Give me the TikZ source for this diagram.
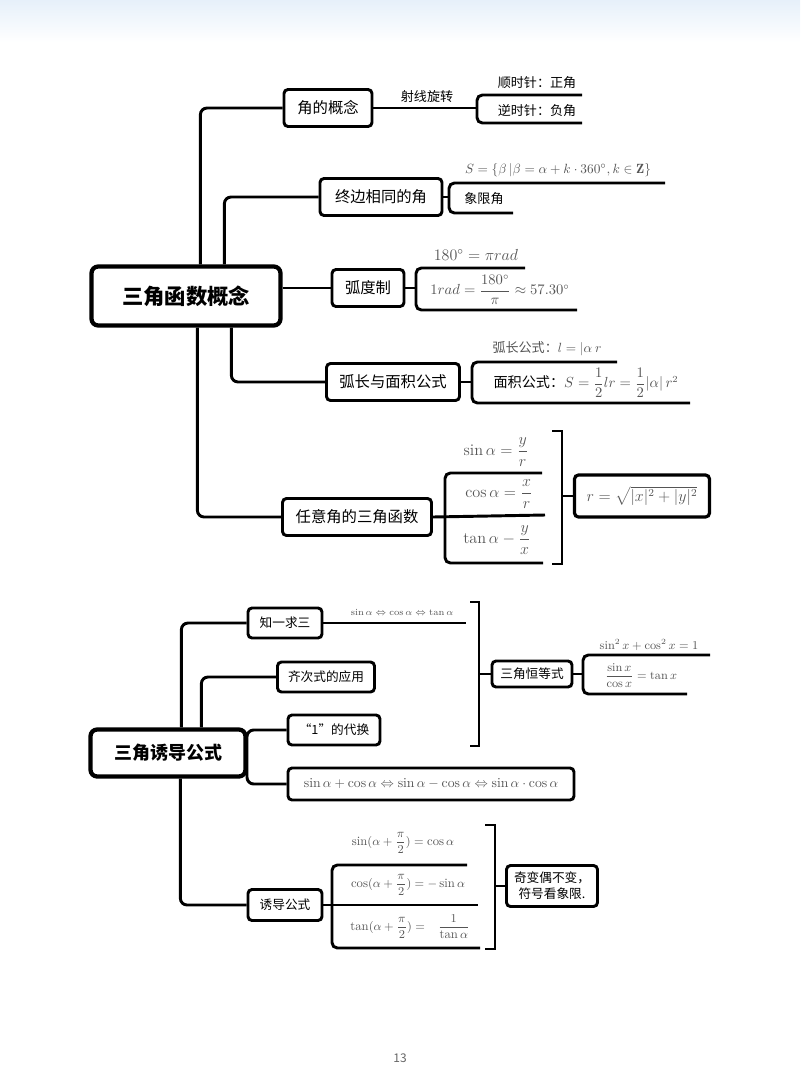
\documentclass[tikz,border=0pt]{standalone}
\usepackage{amsmath, amsfonts, amssymb}
\usepackage{fontspec}
\newfontfamily\cjk{Noto Sans CJK SC}
\usetikzlibrary{calc}
\definecolor{mathgray}{HTML}{555555}
\definecolor{topband}{HTML}{E6F0FA}

\tikzset{
  wh/.style 2 args={minimum width=#1*0.75pt, minimum height=#2*0.75pt},
  box/.style={draw, line width=2.2pt, rounded corners=3pt, inner sep=0pt, align=center,
    font=\cjk\fontsize{11.5}{13}\selectfont},
  sbox/.style={box, font=\cjk\fontsize{9.5}{12}\selectfont},
  bigbox/.style={draw, line width=3.2pt, rounded corners=5pt, inner sep=0pt,
    font=\cjk\bfseries\fontsize{16}{18}\selectfont},
  conn/.style={line width=2.2pt, rounded corners=5pt},
  brk/.style={line width=2.2pt},
  lbl/.style={inner sep=1pt, font=\cjk\fontsize{9.8}{11}\selectfont},
  fml/.style={inner sep=1pt, text=mathgray},
}

\begin{document}
\begin{tikzpicture}[x=0.75pt, y=-0.75pt]
    \useasboundingbox (0,0) rectangle (800,1085);
    % 顶部底色
    \shade[top color=topband, bottom color=white] (0,0) rectangle (800,42);

    % ===== 三角函数概念 =====
    \node[bigbox, wh={189}{59}] (m1) at (186,296) {三角函数概念};
    \node[box, wh={88}{37}]  (a1) at (328,108) {角的概念};
    \node[box, wh={122}{37}] (a2) at (381,197) {终边相同的角};
    \node[box, wh={72}{37}]  (a3) at (368,288) {弧度制};
    \node[box, wh={133}{37}] (a4) at (393,382) {弧长与面积公式};
    \node[box, wh={149}{37}] (a5) at (357,517) {任意角的三角函数};
    % 主干连线
    \draw[conn] ($(m1.north west)+(111,0)$) |- (a1.west);
    \draw[conn] ($(m1.north west)+(135,0)$) |- (a2.west);
    \draw[conn] (m1.east |- a3.west) -- (a3.west);
    \draw[conn] ($(m1.south west)+(142,0)$) |- (a4.west);
    \draw[conn] ($(m1.south west)+(108,0)$) |- (a5.west);

    % 角的概念
    \draw[conn] (a1.east) -- (477,108) coordinate (k1);
    \draw[conn, rounded corners=4pt] (582,95) -- (477,95) -- (477,123) -- (582,123);
    \node[lbl] (t10) at (427,97) {射线旋转};
    \node[lbl] (t11) at (537,83) {顺时针：正角};
    \node[lbl] (t12) at (537,111) {逆时针：负角};

    % 终边相同的角
    \draw[conn] (a2.east) -- (449,197) coordinate (k2);
    \draw[conn, rounded corners=4pt] (665,183) -- (449,183) -- (449,213) -- (513,213);
    \node[fml] (t21) at (558,170) {$S=\{\beta\,|\beta=\alpha+k\cdot360^\circ,k\in\mathbf{Z}\}$};
    \node[lbl] (t22) at (484,199) {象限角};

    % 弧度制
    \draw[conn] (a3.east) -- (416,288) coordinate (k3);
    \draw[conn, rounded corners=4pt] (525,268) -- (416,268) -- (416,310) -- (577,310);
    \node[fml] (t31) at (476,255) {\large $180^\circ=\pi rad$};
    \node[fml, font=\fontsize{10.6}{12}\selectfont] (t32) at (500,290) {$1rad=\dfrac{180^\circ}{\pi}\approx57.30^\circ$};

    % 弧长与面积公式
    \draw[conn] (a4.east) -- (472,382) coordinate (k4);
    \draw[conn, rounded corners=4pt] (617,362) -- (472,362) -- (472,403) -- (690,403);
    \node[lbl, text=mathgray] (t41) at (547,349) {弧长公式：$l=|\alpha\ r$};
    \node[lbl, font=\cjk\fontsize{10.6}{12}\selectfont] (t42) at (586,383) {面积公式：\textcolor{mathgray}{$S=\dfrac{1}{2}lr=\dfrac{1}{2}|\alpha|\,r^2$}};

    % 任意角的三角函数
    \draw[conn] (a5.east) -- (545,515) coordinate (k5);
    \draw[conn, rounded corners=4pt] (542,473) -- (445,473) -- (445,563) -- (543,563);
    \begin{scope}[every node/.append style={font=\fontsize{12.2}{14}\selectfont}]
    \node[fml] (t51) at (496,452) {$\sin\alpha=\dfrac{y}{r}$};
    \node[fml] (t52) at (499,494) {$\cos\alpha=\dfrac{x}{r}$};
    \node[fml] (t53) at (497,540) {$\tan\alpha-\dfrac{y}{x}$};
    \end{scope}
    \draw[brk] (552,431) -- (562,431) -- (562,564) -- (552,564);
    \node[box, line width=2.4pt, wh={135}{42}] (r1) at (642,496)
      {\textcolor{mathgray}{$r=\sqrt{|x|^2+|y|^2}$}};
    \draw[conn] (562,496) -- (r1.west);

    % ===== 三角诱导公式 =====
    \node[bigbox, wh={155}{47}, font=\cjk\bfseries\fontsize{13.5}{16}\selectfont] (m2) at (168,753) {三角诱导公式};
    \node[sbox, wh={74}{30}]  (b1) at (285,623) {知一求三};
    \node[sbox, wh={97}{30}]  (b2) at (326,677) {齐次式的应用};
    \node[sbox, wh={92}{30}]  (b3) at (334,730) {“1”的代换};
    \node[sbox, wh={286}{32}, font=\fontsize{10.3}{12}\selectfont] (b4) at (431,784)
      {\textcolor{mathgray}{$\sin\alpha+\cos\alpha\Leftrightarrow\sin\alpha-\cos\alpha\Leftrightarrow\sin\alpha\cdot\cos\alpha$}};
    \node[sbox, wh={74}{31}]  (b5) at (285,905) {诱导公式};
    % 主干连线
    \draw[conn] ($(m2.north west)+(93,0)$) |- (b1.west);
    \draw[conn] ($(m2.north west)+(113,0)$) |- (b2.west);
    \draw[conn] (b3.west) -| (247,757) |- (b4.west);
    \draw[conn] ($(m2.south west)+(92,0)$) |- (b5.west);

    % 知一求三 与 三角恒等式
    \draw[conn] (b1.east) -- (466,623) coordinate (k6);
    \node[fml] (e1) at (402,612) {\scriptsize $\sin\alpha\Leftrightarrow\cos\alpha\Leftrightarrow\tan\alpha$};
    \draw[brk] (470,602) -- (479,602) -- (479,746) -- (470,746);
    \node[sbox, wh={80}{26}] (c1) at (532,674) {三角恒等式};
    \draw[conn] (479,674) -- (c1.west);
    \draw[conn] (c1.east) -- (583,674) coordinate (k7);
    \draw[conn, rounded corners=4pt] (710,655) -- (583,655) -- (583,694) -- (687,694);
    \node[fml] (c11) at (649,645) {\small $\sin^2x+\cos^2x=1$};
    \node[fml] (c12) at (641,676) {\small $\dfrac{\sin x}{\cos x}=\tan x$};

    % 诱导公式
    \draw[conn] (b5.east) -- (478,905) coordinate (k8);
    \draw[conn, rounded corners=4pt] (467,865) -- (332,865) -- (332,948) -- (480,948);
    \begin{scope}[every node/.append style={font=\fontsize{9.5}{11}\selectfont}]
    \node[fml] (f1) at (403,843) {$\sin(\alpha+\dfrac{\pi}{2})=\cos\alpha$};
    \node[fml] (f2) at (408,885) {$\cos(\alpha+\dfrac{\pi}{2})=-\sin\alpha$};
    \node[fml] (f3) at (410,927) {$\tan(\alpha+\dfrac{\pi}{2})=\phantom{-}\dfrac{1}{\tan\alpha}$};
    \end{scope}
    \draw[brk] (485,825) -- (495,825) -- (495,949) -- (485,949);
    \node[sbox, wh={91}{41}, font=\cjk\fontsize{9.5}{12}\selectfont] (d1) at (552,886) {奇变偶不变，\\符号看象限.};
    \draw[conn] (495,886) -- (d1.west);

    % 页码
    \node[text=gray!80!black, font=\cjk\fontsize{9}{10}\selectfont] (pg) at (400,1058) {13};
\end{tikzpicture}
\end{document}
